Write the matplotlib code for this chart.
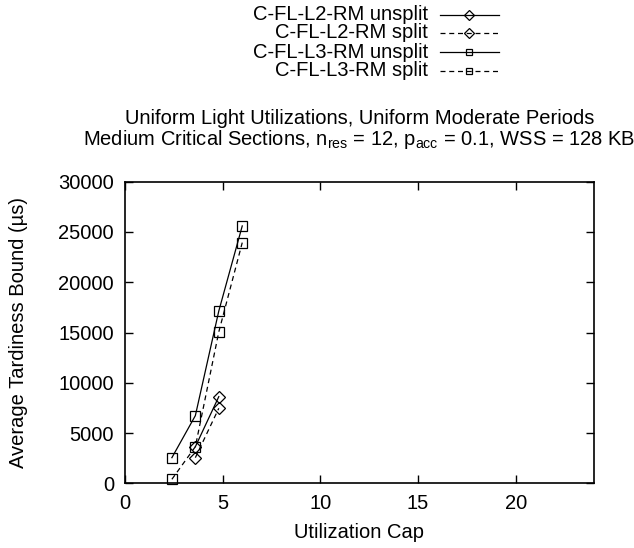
import matplotlib
matplotlib.use("Agg")
import matplotlib.pyplot as plt
from matplotlib.lines import Line2D

plt.rcParams['font.family'] = ['Liberation Sans', 'DejaVu Sans']
plt.rcParams['mathtext.fontset'] = 'custom'
plt.rcParams['mathtext.rm'] = 'Liberation Sans'
plt.rcParams['mathtext.it'] = 'Liberation Sans'

# Data
util_cap = [2.4, 3.6, 4.8, 6.0]
l2_cap = [3.6, 4.8]
l2_unsplit = [3640, 8620]
l2_split = [2550, 7460]
l3_unsplit = [2550, 6730, 17140, 25600]
l3_split = [400, 3640, 15060, 23940]

series_labels = ["C-FL-L2-RM unsplit", "C-FL-L2-RM split",
                 "C-FL-L3-RM unsplit", "C-FL-L3-RM split"]
xticks = [0, 5, 10, 15, 20]
yticks = [0, 5000, 10000, 15000, 20000, 25000, 30000]

W, H = 634, 548
fig = plt.figure(figsize=(W / 100, H / 100), dpi=100)
ax = fig.add_axes([125 / W, 1 - 483.3 / H, (594 - 125) / W, (483.3 - 181.7) / H])

fs = 14.5
dash = (0, (4, 3))
styles = [
    dict(ls='-', marker='D', ms=6),
    dict(ls=dash, marker='D', ms=6),
    dict(ls='-', marker='s', ms=6.5),
    dict(ls=dash, marker='s', ms=6.5),
]
xs = [l2_cap, l2_cap, util_cap, util_cap]
ys = [l2_unsplit, l2_split, l3_unsplit, l3_split]
for x, y, st in zip(xs, ys, styles):
    ax.plot(x, y, color='black', lw=0.9, mfc='none', mec='black', mew=0.9,
            linestyle=st['ls'], marker=st['marker'], ms=st['ms'], clip_on=False)

ax.set_xlim(0, 24)
ax.set_ylim(0, 30000)
ax.set_xticks(xticks)
ax.set_yticks(yticks)
ax.tick_params(direction='in', length=6, width=1, top=True, right=True,
               labelsize=fs, pad=8)
for s in ax.spines.values():
    s.set_linewidth(1.2)
ax.set_xlabel("Utilization Cap", fontsize=fs, labelpad=7)
ax.set_ylabel("Average Tardiness Bound (µs)", fontsize=fs, labelpad=22)

# Title (two lines, centred on the axes)
cx = (125 + 594) / 2 / W
fig.text(cx, 1 - 130 / H,
         "Uniform Light Utilizations, Uniform Moderate Periods\n"
         r"Medium Critical Sections, n$_{\mathrm{res}}$ = 12, p$_{\mathrm{acc}}$ = 0.1, WSS = 128 KB",
         ha='center', va='center', ma='center', fontsize=fs, linespacing=0.95)

# Legend (manual, gnuplot style)
leg_y = [15, 33, 52, 71]
for lab, st, yy in zip(series_labels, styles, leg_y):
    yf = 1 - yy / H
    fig.text(428 / W, yf, lab, ha='right', va='center', fontsize=fs)
    fig.add_artist(Line2D([440 / W, 499 / W], [yf, yf], transform=fig.transFigure,
                          color='black', lw=0.9, linestyle=st['ls']))
    fig.add_artist(Line2D([469 / W], [yf], transform=fig.transFigure,
                          color='black', marker=st['marker'], ms=5,
                          mfc='none', mec='black', mew=0.9, linestyle='none'))

fig.savefig("out.png", dpi=100)
